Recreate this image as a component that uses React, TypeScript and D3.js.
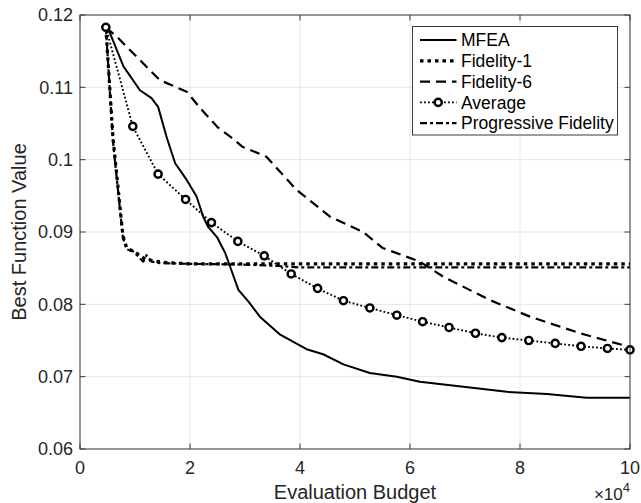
import React from "react";
import * as d3 from "d3";

// Evaluation budget in units of 10^4
const mfeaX = [0.47, 0.545, 0.79, 1.09, 1.3, 1.42, 1.58, 1.73, 1.94, 2.12, 2.24, 2.33, 2.49, 2.64, 2.73, 2.88, 3.06, 3.27, 3.64, 4.12, 4.42, 4.79, 5.27, 5.76, 6.18, 6.97, 7.76, 8.49, 9.21, 10.0];
const mfeaY = [0.1183, 0.1175, 0.1129, 0.1096, 0.1085, 0.1073, 0.103, 0.0995, 0.0972, 0.0949, 0.0921, 0.0907, 0.0893, 0.0871, 0.0852, 0.082, 0.0804, 0.0783, 0.0758, 0.0738, 0.0731, 0.0717, 0.0705, 0.07, 0.0693, 0.0686, 0.0679, 0.0676, 0.0671, 0.0671];

const fid1X = [0.47, 0.6, 0.78, 0.85, 1.0, 1.2, 1.5, 2.0, 10.0];
const fid1Y = [0.1183, 0.103, 0.0895, 0.0878, 0.0872, 0.0862, 0.0858, 0.0856, 0.0856];

const fid6X = [0.47, 0.67, 1.45, 1.94, 2.2, 2.5, 2.73, 2.95, 3.39, 3.94, 4.55, 5.15, 5.5, 6.18, 6.61, 7.45, 8.18, 9.09, 10.0];
const fid6Y = [0.1183, 0.117, 0.111, 0.1094, 0.107, 0.1045, 0.1032, 0.1018, 0.1004, 0.0958, 0.0921, 0.09, 0.0878, 0.0859, 0.0838, 0.0806, 0.0783, 0.076, 0.0741];

const avgX = [0.47, 0.96, 1.42, 1.92, 2.39, 2.87, 3.35, 3.84, 4.32, 4.79, 5.27, 5.76, 6.23, 6.71, 7.19, 7.67, 8.16, 8.64, 9.11, 9.59, 10.0];
const avgY = [0.1183, 0.1046, 0.098, 0.0945, 0.0913, 0.0887, 0.0867, 0.0842, 0.0822, 0.0805, 0.0795, 0.0785, 0.0776, 0.0768, 0.076, 0.0754, 0.075, 0.0746, 0.0742, 0.0739, 0.0737];

const progX = [0.47, 0.6, 0.78, 0.85, 0.97, 1.15, 1.21, 1.3, 1.45, 2.0, 3.0, 3.6, 4.0, 10.0];
const progY = [0.1183, 0.1025, 0.0892, 0.0876, 0.0873, 0.0859, 0.0868, 0.0859, 0.0857, 0.0856, 0.0855, 0.0853, 0.0851, 0.0851];

const xTicks = [0, 2, 4, 6, 8, 10];
const xTickLabels = ["0", "2", "4", "6", "8", "10"];
const yTicks = [0.06, 0.07, 0.08, 0.09, 0.1, 0.11, 0.12];
const yTickLabels = ["0.06", "0.07", "0.08", "0.09", "0.1", "0.11", "0.12"];

const legendNames = ["MFEA", "Fidelity-1", "Fidelity-6", "Average", "Progressive Fidelity"];

const W = 641;
const H = 503;
const left = 80;
const right = 630;
const top = 15;
const bottom = 449;
const FONT = "'Liberation Sans', Arial, Helvetica, sans-serif";
const AXIS = "#3a3a3a";
const GRID = "#e6e6e6";

type Style = { width: number; dash?: string };
const styles: Style[] = [
  { width: 2 },
  { width: 3.2, dash: "3.5,4" },
  { width: 2.2, dash: "10,6" },
  { width: 1.9, dash: "1.8,2.2" },
  { width: 2.2, dash: "7,3,3,3" },
];

export default function App() {
  const x = d3.scaleLinear().domain([0, 10]).range([left, right]);
  const y = d3.scaleLinear().domain([0.06, 0.12]).range([bottom, top]);
  const line = d3
    .line<[number, number]>()
    .x((d) => x(d[0]))
    .y((d) => y(d[1]));

  const zip = (xs: number[], ys: number[]) => xs.map((v, i) => [v, ys[i]] as [number, number]);
  const series = [
    zip(mfeaX, mfeaY),
    zip(fid1X, fid1Y),
    zip(fid6X, fid6Y),
    zip(avgX, avgY),
    zip(progX, progY),
  ];

  const tickLen = 5.5;
  const legX = 412.5;
  const legY = 26.5;
  const legW = 205;
  const legH = 108.5;
  const rowY = (i: number) => 40 + i * 20.8;

  return (
    <svg
      width={W}
      height={H}
      style={{ position: "absolute", left: 0, top: 0, background: "#fff" }}
      fontFamily={FONT}
    >
      <rect x={0} y={0} width={W} height={H} fill="#fff" />
      {/* grid */}
      {xTicks.map((t) => (
        <line key={"gx" + t} x1={x(t)} x2={x(t)} y1={top} y2={bottom} stroke={GRID} strokeWidth={1} />
      ))}
      {yTicks.map((t) => (
        <line key={"gy" + t} x1={left} x2={right} y1={y(t)} y2={y(t)} stroke={GRID} strokeWidth={1} />
      ))}

      {/* series */}
      <defs>
        <clipPath id="plotArea">
          <rect x={left} y={top - 6} width={right - left + 6} height={bottom - top + 6} />
        </clipPath>
      </defs>
      <g clipPath="url(#plotArea)">
        {series.map((s, i) => (
          <path
            key={"s" + i}
            d={line(s) || ""}
            fill="none"
            stroke="#000"
            strokeWidth={styles[i].width}
            strokeDasharray={styles[i].dash}
            strokeLinejoin="round"
          />
        ))}
        {series[3].map((p, i) => (
          <circle key={"m" + i} cx={x(p[0])} cy={y(p[1])} r={3.6} fill="#fff" stroke="#000" strokeWidth={2.4} />
        ))}
      </g>

      {/* axes box */}
      <rect x={left} y={top} width={right - left} height={bottom - top} fill="none" stroke={AXIS} strokeWidth={1} />
      {xTicks.map((t) => (
        <g key={"tx" + t}>
          <line x1={x(t)} x2={x(t)} y1={bottom} y2={bottom - tickLen} stroke={AXIS} />
          <line x1={x(t)} x2={x(t)} y1={top} y2={top + tickLen} stroke={AXIS} />
        </g>
      ))}
      {yTicks.map((t) => (
        <g key={"ty" + t}>
          <line x1={left} x2={left + tickLen} y1={y(t)} y2={y(t)} stroke={AXIS} />
          <line x1={right} x2={right - tickLen} y1={y(t)} y2={y(t)} stroke={AXIS} />
        </g>
      ))}

      {/* tick labels */}
      {xTicks.map((t, i) => (
        <text key={"lx" + t} x={x(t)} y={474} textAnchor="middle" fontSize={18} fill="#262626">
          {xTickLabels[i]}
        </text>
      ))}
      {yTicks.map((t, i) => (
        <text key={"ly" + t} x={73} y={y(t) + 6.3} textAnchor="end" fontSize={18} fill="#262626">
          {yTickLabels[i]}
        </text>
      ))}

      {/* axis labels */}
      <text x={(left + right) / 2} y={499} textAnchor="middle" fontSize={20} fill="#262626">
        Evaluation Budget
      </text>
      <text
        transform={`translate(26,${(top + bottom) / 2}) rotate(-90)`}
        textAnchor="middle"
        fontSize={20}
        fill="#262626"
      >
        Best Function Value
      </text>
      <text x={630} y={500} textAnchor="end" fontSize={17} fill="#262626">
        ×10<tspan dy={-8} fontSize={13}>4</tspan>
      </text>

      {/* legend */}
      <rect x={legX} y={legY} width={legW} height={legH} fill="#fff" stroke={AXIS} strokeWidth={1} />
      {legendNames.map((name, i) => (
        <g key={"lg" + i}>
          <line
            x1={420}
            x2={456.5}
            y1={rowY(i)}
            y2={rowY(i)}
            stroke="#000"
            strokeWidth={styles[i].width}
            strokeDasharray={styles[i].dash}
          />
          {i === 3 && <circle cx={438.2} cy={rowY(i)} r={3.6} fill="#fff" stroke="#000" strokeWidth={2.4} />}
          <text x={461} y={rowY(i) + 6.2} fontSize={17.5} fill="#000">
            {name}
          </text>
        </g>
      ))}
    </svg>
  );
}
